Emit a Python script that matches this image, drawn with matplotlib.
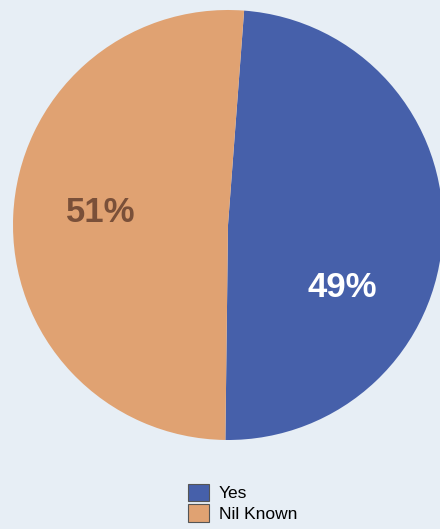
import matplotlib.pyplot as plt
from matplotlib.patches import Patch

plt.rcParams["font.family"] = ["Liberation Sans", "DejaVu Sans"]

# data
labels = ["Yes", "Nil Known"]
values = [49, 51]
colors = ["#4660aa", "#e0a272"]
pct_colors = ["white", "#7a5039"]

fig = plt.figure(figsize=(4.40, 5.29), dpi=100)
fig.patch.set_facecolor("#e7eef5")

ax = fig.add_axes([13 / 440, 89 / 529, 430 / 440, 430 / 529])
ax.set_facecolor("none")
wedges, texts, autotexts = ax.pie(
    values, colors=colors, startangle=85.7, counterclock=False,
    autopct="%d%%", pctdistance=0.6, radius=1.0,
    wedgeprops=dict(linewidth=0),
    textprops=dict(fontsize=25, fontweight="bold"),
)
ax.set_xlim(-1, 1)
ax.set_ylim(-1, 1)
ax.set_aspect("equal")

for t, c in zip(autotexts, pct_colors):
    t.set_color(c)
# label positions in the original are not at the wedge middles
autotexts[0].set_position((0.53, -0.29))
autotexts[1].set_position((-0.59, 0.06))

handles = [Patch(facecolor=c, edgecolor="#555555", linewidth=0.8, label=l)
           for c, l in zip(colors, labels)]
fig.legend(handles=handles, loc="upper left", bbox_to_anchor=(179 / 440, 1 - 475 / 529),
           frameon=False, fontsize=12.5, handlelength=1.2, handleheight=1.2,
           handletextpad=0.6, labelspacing=0.15, borderpad=0)

fig.savefig("out.png", dpi=100, facecolor=fig.get_facecolor())
